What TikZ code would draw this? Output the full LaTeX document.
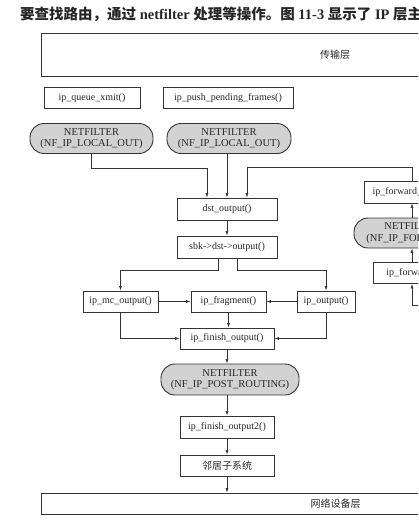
\documentclass[tikz,border=0pt]{standalone}
\usepackage{fontspec}
\setmainfont{Liberation Serif}
\newfontfamily\cjk{Noto Sans CJK SC}
\usetikzlibrary{positioning, arrows.meta, calc}
\definecolor{Ink}{HTML}{333333}
\definecolor{Hook}{HTML}{D2D2D2}
\definecolor{Print}{HTML}{262626}

\begin{document}
\begin{tikzpicture}[x=1pt, y=-1pt,
    func/.style={draw=Ink, line width=0.8pt, minimum height=21pt, inner sep=2pt, font=\fontsize{10}{12}\selectfont, text=Print},
    hook/.style={draw=Ink, line width=0.9pt, fill=Hook, rounded corners=14pt, minimum height=30pt, align=center, inner sep=1pt, font=\fontsize{10.5}{11.5}\selectfont, text=Print},
    layer/.style={draw=Ink, line width=0.8pt, minimum width=588pt, font=\cjk\fontsize{10}{12}\selectfont, text=Print},
    flow/.style={draw=Ink, line width=0.6pt, -{Latex[length=4.5pt,width=3pt]}}
]
\useasboundingbox (0,0) rectangle (418,532);
\clip (0,0) rectangle (418,532);

% Caption line
\node[anchor=base west, inner sep=0pt, text=Print, font=\bfseries\fontsize{14.5}{17}\selectfont] (caption) at (20,20)
    {{\cjk 要查找路由，通过} netfilter {\cjk 处理等操作。图} 11-3 {\cjk 显示了} IP {\cjk 层主}};

% Layers
\node[layer, minimum height=43pt] (trans) at (335,54.5) {传输层};
\node[layer, minimum height=21pt] (netdev) at (335.5,503.5) {网络设备层};

% Local output
\node[func, minimum width=96pt] (qxmit) at (92,98) {ip\_queue\_xmit()};
\node[func, minimum width=130pt] (push) at (228,98) {ip\_push\_pending\_frames()};
\node[hook, minimum width=123pt] (nflocal) at (91.5,138.5) {NETFILTER\\(NF\_IP\_LOCAL\_OUT)};
\node[hook, minimum width=124pt] (nfpush) at (229,138.5) {NETFILTER\\(NF\_IP\_LOCAL\_OUT)};

% Forwarding
\node[func, minimum width=96pt, minimum height=22pt] (fwdfin) at (412,192) {ip\_forward\_finish()};
\node[hook, minimum width=116pt] (nffwd) at (412,233) {NETFILTER\\(NF\_IP\_FORWARD)};
\node[func, minimum width=78pt] (fwd) at (412,273) {ip\_forward()};
\coordinate (fwdin) at (430,305);

% Output path
\node[func, minimum width=100pt, minimum height=22pt] (dst) at (227,209) {dst\_output()};
\node[func, minimum width=100pt, minimum height=22pt] (sbk) at (227,247) {sbk-{}>dst-{}>output()};
\node[func, minimum width=75pt] (mc) at (120.5,301.5) {ip\_mc\_output()};
\node[func, minimum width=75pt] (frag) at (228.5,301.5) {ip\_fragment()};
\node[func, minimum width=58pt] (ipout) at (326,301.5) {ip\_output()};
\node[func, minimum width=94pt] (fin) at (227,338.5) {ip\_finish\_output()};
\node[hook, minimum width=138pt, minimum height=31pt] (nfpost) at (230,379.5) {NETFILTER\\(NF\_IP\_POST\_ROUTING)};
\node[func, minimum width=94pt, minimum height=22pt] (fin2) at (227,427) {ip\_finish\_output2()};
\node[func, minimum width=94pt, font=\cjk\fontsize{10}{12}\selectfont] (neigh) at (227,465.5) {邻居子系统};

% Connectors
\draw[flow] (nflocal.south) -- ++(0,14) -| ([xshift=-20pt]dst.north);
\draw[flow] (dst.north |- nfpush.south) -- (dst.north);
\draw[flow] (fwdfin.north) -- ++(0,-13) -| ([xshift=20pt]dst.north);
\draw[flow] (fwdin) -| (fwd.south);
\draw[flow] (fwd) -- (nffwd);
\draw[flow] (nffwd) -- (fwdfin);
\draw[flow] (dst) -- (sbk);
\draw[flow] ([xshift=-9pt]sbk.south) -- ++(0,12) -| (mc.north);
\draw[flow] ([xshift=10pt]sbk.south) -- ++(0,12) -| (ipout.north);
\draw[flow] (mc) -- (frag);
\draw[flow] (ipout) -- (frag);
\draw[flow] (frag.south) -- (frag.south |- fin.north);
\draw[flow] (mc.south) |- (fin.west);
\draw[flow] (ipout.south) |- (fin.east);
\draw[flow] (fin.south) -- (fin.south |- nfpost.north);
\draw[flow] (nfpost.south -| fin2.north) -- (fin2.north);
\draw[flow] (fin2) -- (neigh);
\draw[flow] (neigh.south) -- (neigh.south |- netdev.north);

\end{tikzpicture}
\end{document}
